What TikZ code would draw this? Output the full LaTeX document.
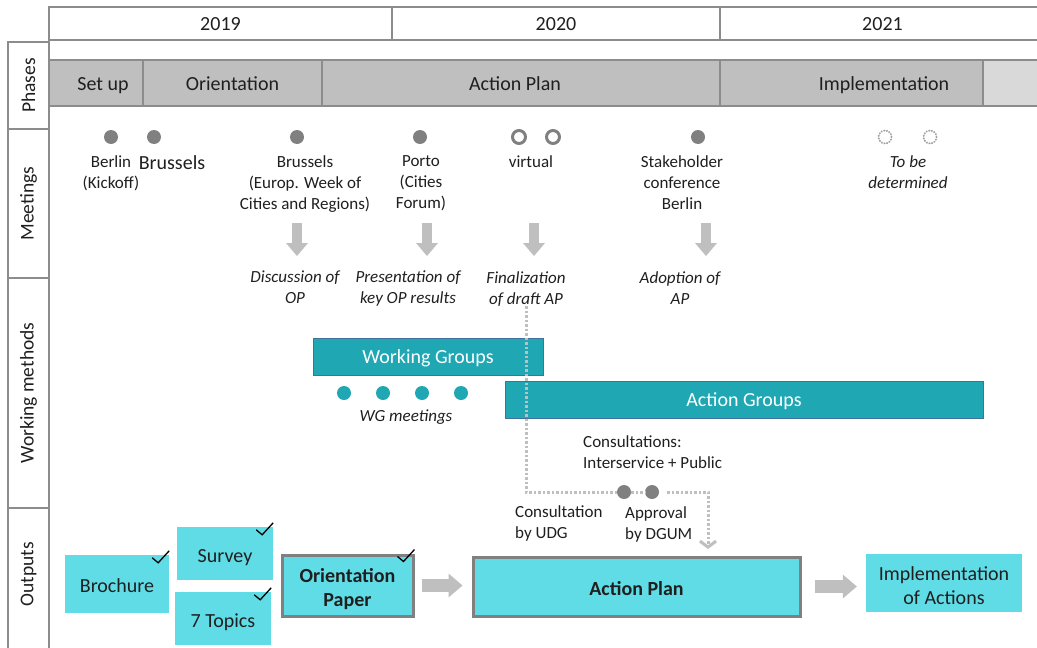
\documentclass[tikz,border=0pt]{standalone}
\usepackage{fontspec}
\setmainfont{Carlito}
\usetikzlibrary{arrows.meta}
\pgfdeclarelayer{edgelayer}
\pgfdeclarelayer{nodelayer}
\pgfsetlayers{edgelayer,nodelayer,main}
\newcommand{\fsbig}{\fontsize{20}{24}\selectfont}
\newcommand{\fssmall}{\fontsize{17}{21}\selectfont}
\newcommand{\fsrow}{\fontsize{19.5}{23}\selectfont}
\definecolor{framegray}{HTML}{8C8C8C}
\definecolor{phasegray}{HTML}{BFBFBF}
\definecolor{phaselight}{HTML}{D9D9D9}
\definecolor{dotgray}{HTML}{808080}
\definecolor{flowgray}{HTML}{BFBFBF}
\definecolor{groupteal}{HTML}{1FA7B3}
\definecolor{groupborder}{HTML}{41719C}
\definecolor{outcyan}{HTML}{60DCE6}
\definecolor{inkgray}{HTML}{1F1F1F}
\tikzstyle{year}=[rectangle,draw=framegray,line width=1.2pt,minimum height=33,inner sep=0pt,text height=16.4pt,text depth=2pt,font=\fsbig]
\tikzstyle{phase}=[rectangle,draw=framegray,fill=phasegray,line width=1.2pt,minimum height=46,inner sep=0pt,text height=16.4pt,text depth=2pt,font=\fsbig]
\tikzstyle{row}=[rectangle,draw=framegray,line width=1.2pt,rotate=90,minimum height=41,inner sep=0pt,font=\fsrow]
\tikzstyle{meeting}=[circle,fill=dotgray,minimum size=14,inner sep=0pt]
\tikzstyle{onlinemeeting}=[circle,draw=dotgray,fill=white,line width=3pt,minimum size=13,inner sep=0pt]
\tikzstyle{plannedmeeting}=[circle,draw=dotgray!75,line width=2pt,dash pattern=on 0.3pt off 2.4pt,line cap=round,minimum size=13,inner sep=0pt]
\tikzstyle{place}=[align=center,anchor=north,inner sep=0pt,font=\fssmall]
\tikzstyle{result}=[place,font=\fssmall\itshape]
\tikzstyle{note}=[align=left,anchor=north west,inner sep=0pt,font=\fssmall]
\tikzstyle{group}=[rectangle,draw=groupborder,fill=groupteal,text=white,line width=1pt,minimum height=37,inner sep=0pt,text height=16.4pt,text depth=2pt,font=\fsbig]
\tikzstyle{wgmeeting}=[circle,fill=groupteal,minimum size=14,inner sep=0pt]
\tikzstyle{output}=[rectangle,fill=outcyan,align=center,inner sep=0pt,font=\fsbig]
\tikzstyle{singleoutput}=[output,text height=19.4pt,text depth=2pt]
\tikzstyle{keyoutput}=[output,draw=dotgray,line width=3pt,font=\fsbig\bfseries]
\tikzstyle{flow}=[draw=flowgray,line width=10pt,-{Triangle[width=22pt,length=13pt,line width=0pt]}]
\tikzstyle{bigflow}=[draw=flowgray,line width=13pt,-{Triangle[width=24pt,length=14pt,line width=0pt]}]
\tikzstyle{consult}=[draw=flowgray,line width=3pt,dash pattern=on 2.5pt off 2pt,-{Straight Barb[length=6pt,width=16pt]}]
\tikzstyle{tick}=[draw=black,line width=1.3pt]

\begin{document}
\begin{tikzpicture}[x=1pt, y=-1pt, text=inkgray]
	\useasboundingbox (0,0) rectangle (1037,648);
	\begin{pgfonlayer}{nodelayer}
		\node [style=year, minimum width=343] (0) at (220.5, 23.5) {2019};
		\node [style=year, minimum width=328] (1) at (556, 23.5) {2020};
		\node [style=year, minimum width=325] (2) at (882.5, 23.5) {2021};
		\node [style=phase, minimum width=410] (3) at (515, 83) {Action Plan};
		\node [style=phase, minimum width=108] (4) at (103, 83) {Set up};
		\node [style=phase, minimum width=179] (5) at (232.5, 83) {Orientation};
		\node [style=phase, minimum width=328] (6) at (884, 83) {Implementation};
		\node [style=phase, fill=phaselight, minimum width=65] (7) at (1015.5, 83) {};
		\node [style=row, minimum width=87] (8) at (28.5, 85.5) {Phases};
		\node [style=row, minimum width=149] (9) at (28.5, 203.5) {Meetings};
		\node [style=row, minimum width=230] (10) at (28.5, 393) {Working methods};
		\node [style=row, minimum width=152] (11) at (28.5, 584) {\hspace*{20pt}Outputs};
		\node [style=meeting] (12) at (111, 137) {};
		\node [style=meeting] (13) at (154, 137) {};
		\node [style=meeting] (14) at (297, 137) {};
		\node [style=meeting] (15) at (420, 137) {};
		\node [style=onlinemeeting] (16) at (519, 137) {};
		\node [style=onlinemeeting] (17) at (553, 137) {};
		\node [style=meeting] (18) at (698, 137) {};
		\node [style=plannedmeeting] (19) at (885, 137) {};
		\node [style=plannedmeeting] (20) at (930, 137) {};
		\node [style=place] (21) at (111, 155) {Berlin\\(Kickoff)};
		\node [style=place, font=\fsbig] (22) at (172, 155) {Brussels};
		\node [style=place] (23) at (305, 155) {Brussels\\(Europ. Week of\\Cities and Regions)};
		\node [style=place] (24) at (421, 155) {Porto\\(Cities\\Forum)};
		\node [style=place] (25) at (531, 155) {virtual};
		\node [style=place] (26) at (682, 155) {Stakeholder\\conference\\Berlin};
		\node [style=result] (27) at (908, 155) {To be\\determined};
		\node [style=result] (28) at (295, 271) {Discussion of\\OP};
		\node [style=result] (29) at (408, 271) {Presentation of\\key OP results};
		\node [style=result] (30) at (526, 271) {Finalization\\of draft AP};
		\node [style=result] (31) at (680, 271) {Adoption of\\AP};
		\node [style=group, minimum width=230] (32) at (428, 356.5) {Working Groups};
		\node [style=group, minimum width=478] (33) at (744, 399.5) {Action Groups};
		\node [style=wgmeeting] (34) at (344, 393) {};
		\node [style=wgmeeting] (35) at (383, 393) {};
		\node [style=wgmeeting] (36) at (422, 393) {};
		\node [style=wgmeeting] (37) at (461, 393) {};
		\node [style=result, anchor=center] (38) at (406, 417) {WG meetings};
		\node [style=note] (39) at (583, 435) {Consultations:\\Interservice + Public};
		\node [style=note] (42) at (515, 505) {Consultation\\by UDG};
		\node [style=note] (43) at (625, 506) {Approval\\by DGUM};
		\node [style=singleoutput, minimum width=104, minimum height=58] (44) at (117, 584) {Brochure};
		\node [style=singleoutput, minimum width=96, minimum height=53] (45) at (225, 553.5) {Survey};
		\node [style=singleoutput, minimum width=96, minimum height=53] (46) at (223, 618.5) {7 Topics};
		\node [style=keyoutput, minimum width=131, minimum height=61] (47) at (347.5, 585.5) {\rule{0pt}{22pt}Orientation\\Paper};
		\node [style=keyoutput, text height=19.4pt, text depth=2pt, minimum width=327, minimum height=59] (48) at (636.5, 586.5) {Action Plan};
		\node [style=output, minimum width=156, minimum height=58] (49) at (944, 583) {\rule{0pt}{19pt}Implementation\\of Actions};
	\end{pgfonlayer}
	\begin{pgfonlayer}{edgelayer}
		\coordinate (50) at (297, 223);
		\coordinate (51) at (297, 256);
		\coordinate (52) at (427, 223);
		\coordinate (53) at (427, 256);
		\coordinate (54) at (534, 223);
		\coordinate (55) at (534, 256);
		\coordinate (56) at (706, 223);
		\coordinate (57) at (706, 256);
		\draw [style=flow] (50) to (51);
		\draw [style=flow] (52) to (53);
		\draw [style=flow] (54) to (55);
		\draw [style=flow] (56) to (57);
		\draw [style=bigflow, shorten <=7pt, shorten >=9pt] (47.east) to (47.east -| 48.west);
		\draw [style=bigflow, shorten <=13pt, shorten >=9pt] (48.east) to (48.east -| 49.west);
	\end{pgfonlayer}
	% consultation path, drawn over the group bars
	\node [style=meeting] (40) at (624, 492) {};
	\node [style=meeting] (41) at (652, 492) {};
	\coordinate (58) at (708, 549);
	\draw [style=consult, shorten <=8pt] (30.south) |- (40) (40) to (41) (41) -| (58);
	\draw [style=tick] ([shift={(-17,3)}]44.north east) -- ++(6,5) -- ++(11,-12);
	\draw [style=tick] ([shift={(-17,3)}]45.north east) -- ++(6,5) -- ++(11,-12);
	\draw [style=tick] ([shift={(-17,3)}]46.north east) -- ++(6,5) -- ++(11,-12);
	\draw [style=tick] ([shift={(-17,3)}]47.north east) -- ++(6,5) -- ++(11,-12);
\end{tikzpicture}
\end{document}
